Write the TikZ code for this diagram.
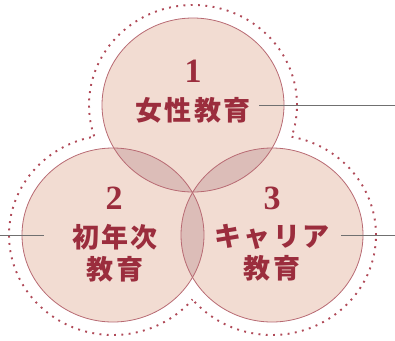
\documentclass[tikz,border=0pt]{standalone}
\usepackage{fontspec}
\setmainfont{Liberation Serif}
\newfontfamily\cjk{Noto Sans CJK JP}[LetterSpace=8]
\definecolor{pinkfill}{HTML}{F2DCD2}
\definecolor{lapfill}{HTML}{DCBDB8}
\definecolor{ringcol}{HTML}{B86A73}
\definecolor{textcol}{HTML}{9B2D3D}
\definecolor{dotcol}{HTML}{B04A58}
\definecolor{leadcol}{HTML}{707070}
\begin{document}
\begin{tikzpicture}[x=1pt,y=-1pt,
  ring/.style={x radius=91pt,y radius=87pt},
  halo/.style={x radius=104pt,y radius=100pt},
  dots/.style={draw=dotcol,line width=1.9pt,line cap=butt,dash pattern=on 1.9pt off 5.4pt},
  num/.style={text=textcol,font=\fontsize{34}{34}\selectfont\bfseries,inner sep=0pt},
  lbl/.style={text=textcol,font=\cjk\fontsize{27}{32}\selectfont\bfseries,align=center,inner sep=0pt},
  leader/.style={draw=leadcol,line width=1pt}]
\useasboundingbox (0,0) rectangle (395,340);
\coordinate (cA) at (193,105);
\coordinate (cB) at (113,235);
\coordinate (cC) at (272,235);
% fills
\fill[pinkfill] (cA) ellipse[ring];
\fill[pinkfill] (cB) ellipse[ring];
\fill[pinkfill] (cC) ellipse[ring];
\begin{scope}
  \clip (cA) ellipse[ring];
  \fill[lapfill] (cB) ellipse[ring];
  \fill[lapfill] (cC) ellipse[ring];
\end{scope}
\begin{scope}
  \clip (cB) ellipse[ring];
  \fill[lapfill] (cC) ellipse[ring];
\end{scope}
% outlines
\draw[ringcol,line width=0.8pt] (cA) ellipse[ring];
\draw[ringcol,line width=0.8pt] (cB) ellipse[ring];
\draw[ringcol,line width=0.8pt] (cC) ellipse[ring];
% dotted halo
\begin{scope}[even odd rule]
  \clip (-20,-20) rectangle (420,360) (cB) ellipse[halo];
  \clip (-20,-20) rectangle (420,360) (cC) ellipse[halo];
  \draw[dots] (cA) ellipse[halo];
\end{scope}
\begin{scope}[even odd rule]
  \clip (-20,-20) rectangle (420,360) (cA) ellipse[halo];
  \clip (-20,-20) rectangle (420,360) (cC) ellipse[halo];
  \draw[dots] (cB) ellipse[halo];
\end{scope}
\begin{scope}[even odd rule]
  \clip (-20,-20) rectangle (420,360) (cA) ellipse[halo];
  \clip (-20,-20) rectangle (420,360) (cB) ellipse[halo];
  \draw[dots] (cC) ellipse[halo];
\end{scope}
% texts
\node[num] (n1) at (193,71) {1};
\node[lbl] (t1) at (193,110) {女性教育};
\node[num] (n2) at (114,198) {2};
\node[lbl] (t2) at (115,253) {初年次\\教育};
\node[num] (n3) at (272,198) {3};
\node[lbl] (t3) at (272,253) {キャリア\\教育};
% leaders
\coordinate (a1) at (259,105);
\coordinate (b1) at (395,105);
\coordinate (a2) at (0,235);
\coordinate (b2) at (44,235);
\coordinate (a3) at (341,235);
\coordinate (b3) at (395,235);
\draw[leader] (a1) -- (b1);
\draw[leader] (a2) -- (b2);
\draw[leader] (a3) -- (b3);
\end{tikzpicture}
\end{document}
